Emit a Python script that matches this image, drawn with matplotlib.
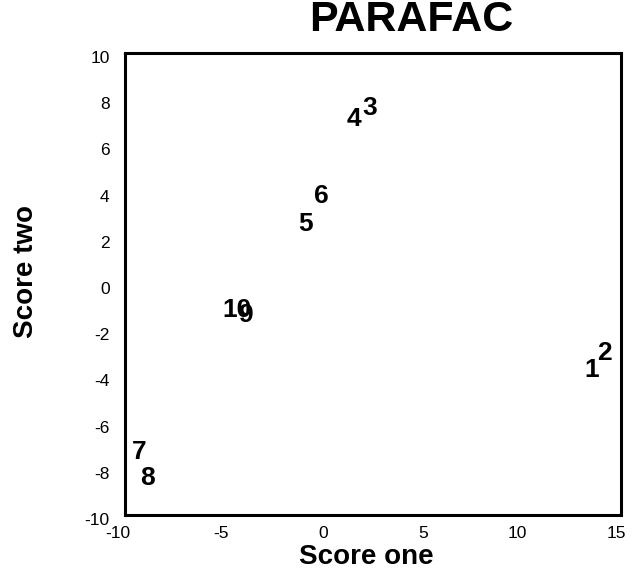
import matplotlib
matplotlib.use("Agg")
import matplotlib.pyplot as plt
import matplotlib.transforms as mtransforms

plt.rcParams["font.family"] = ["Liberation Sans", "DejaVu Sans"]

# sample labels and their scores (label centre positions)
labels = ["1", "2", "3", "4", "5", "6", "7", "8", "9", "10"]
score_one = [13.54, 14.19, 2.35, 1.54, -0.88, -0.12, -9.29, -8.89, -3.95, -4.36]
score_two = [-3.72, -2.99, 7.62, 7.14, 2.60, 3.81, -7.27, -8.40, -1.34, -1.13]

x_ticks = [-10, -5, 0, 5, 10, 15]
y_ticks = [-10, -8, -6, -4, -2, 0, 2, 4, 6, 8, 10]

fig = plt.figure(figsize=(6.34, 5.76), dpi=100)
ax = fig.add_axes([0.1972, 0.1059, 0.7823, 0.802])

for lab, x, y in zip(labels, score_one, score_two):
    ax.text(x, y, lab, ha="center", va="center", fontsize=19, fontweight="bold")

ax.set_xlim(-10, 15)
ax.set_ylim(-10, 10)
ax.set_xticks(x_ticks)
ax.set_yticks(y_ticks)
ax.set_xticklabels([str(v) for v in x_ticks])
ax.set_yticklabels([str(v) for v in y_ticks])
ax.tick_params(length=0, labelsize=12.5)
ax.tick_params(axis="x", pad=8)
ax.tick_params(axis="y", pad=11)

# Excel-like label placement: x labels right-aligned just past the tick
dx = mtransforms.ScaledTranslation(5 / 100, 0, fig.dpi_scale_trans)
for t in ax.get_xticklabels():
    t.set_ha("right")
    t.set_transform(t.get_transform() + dx)
dy = mtransforms.ScaledTranslation(0, -4 / 100, fig.dpi_scale_trans)
for t in ax.get_yticklabels():
    t.set_transform(t.get_transform() + dy)

for s in ax.spines.values():
    s.set_linewidth(2.2)

fig.text(411 / 634, 1 - 20 / 576, "PARAFAC", ha="center", va="center",
         fontsize=31, fontweight="bold")
fig.text(366 / 634, 1 - 557 / 576, "Score one", ha="center", va="center",
         fontsize=20, fontweight="bold")
fig.text(26 / 634, 1 - 271 / 576, "Score two", ha="center", va="center",
         fontsize=20, fontweight="bold", rotation=90)

fig.savefig("out.png", dpi=100)
